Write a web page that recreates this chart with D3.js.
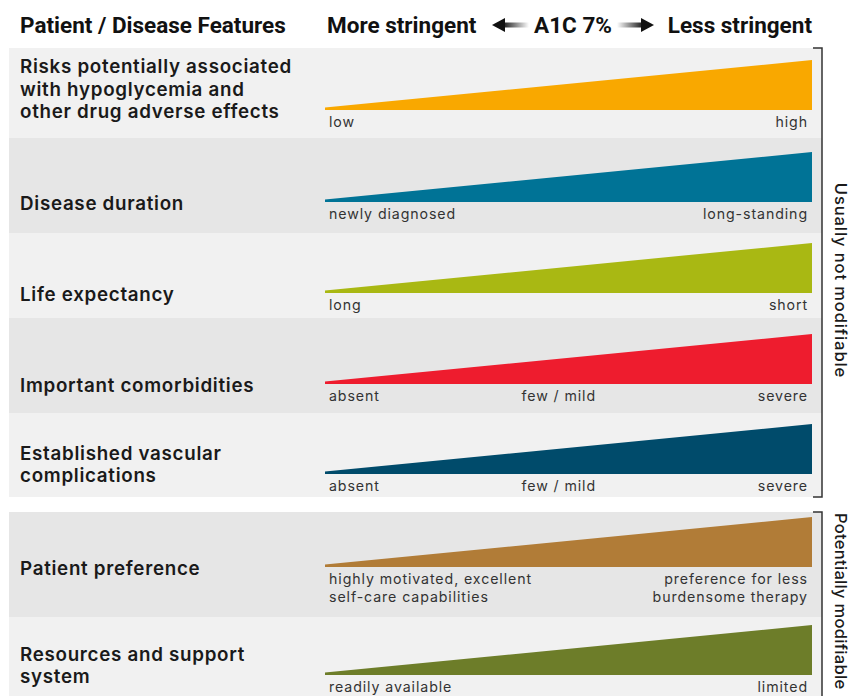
<!DOCTYPE html>
<html>
<head>
<meta charset="utf-8">
<script src="https://cdn.jsdelivr.net/npm/d3@7/dist/d3.min.js"></script>
<style>
body{margin:0;background:#fff;}
svg{display:block;}
.head{font-family:Roboto,"Liberation Sans",sans-serif;font-weight:bold;font-size:22.5px;fill:#111;}
.feat{font-family:Inter,"Open Sans",sans-serif;font-weight:600;font-size:18.8px;letter-spacing:0.7px;fill:#1a1a1a;}
.sub{font-family:Inter,"Open Sans",sans-serif;font-size:14.2px;letter-spacing:0.9px;fill:#333;}
.side{font-family:Inter,"Open Sans",sans-serif;font-weight:500;font-size:16.5px;letter-spacing:0.9px;fill:#1a1a1a;}
</style>
</head>
<body>
<svg id="chart"></svg>
<script>
// features, top to bottom
var features = [
    ["Risks potentially associated","with hypoglycemia and","other drug adverse effects"],
    ["Disease duration"],
    ["Life expectancy"],
    ["Important comorbidities"],
    ["Established vascular","complications"],
    ["Patient preference"],
    ["Resources and support","system"]
];
var leftLabels = [["low"],["newly diagnosed"],["long"],["absent"],["absent"],
    ["highly motivated, excellent","self-care capabilities"],["readily available"]];
var midLabels = ["","","","few / mild","few / mild","",""];
var rightLabels = [["high"],["long-standing"],["short"],["severe"],["severe"],
    ["preference for less","burdensome therapy"],["limited"]];
var colors = ["#f9a800","#007396","#a9b813","#ee1c2e","#004b6b","#b17c37","#6d7d29"];
// wedge thickness, stringent end -> less stringent end
var wedgeStart = [0.05,0.05,0.05,0.05,0.05,0.05,0.05];
var wedgeEnd = [1,1,1,1,1,1,1];
var groups = [
    {name:"Usually not modifiable", rows:[0,1,2,3,4]},
    {name:"Potentially modifiable", rows:[5,6]}
];

var screen = {width:850, height:696};
var rowH = [90,95,85,95,84,105,95];
var baseOff = [62,64,60,66,61,55,58];
var groupGap = 15;

var svg = d3.select("#chart")
    .attr("width",screen.width)
    .attr("height",screen.height);

var xScale = d3.scaleLinear().domain([0,1]).range([325,812]);
var tScale = d3.scaleLinear().domain([0,1]).range([0,50]);

// row tops
var tops = [];
var y = 48;
features.forEach(function(f,i){
    if(i==5){ y += groupGap; }
    tops.push(y);
    y += rowH[i];
});

var bg = svg.append("g");
bg.selectAll("rect")
    .data(features)
    .enter()
    .append("rect")
    .attr("x",9)
    .attr("y",function(d,i){return tops[i];})
    .attr("width",813)
    .attr("height",function(d,i){return rowH[i];})
    .attr("fill",function(d,i){return i%2==0 ? "#f1f1f1" : "#e6e6e6";});

var area = d3.area()
    .x(function(d){return xScale(d.t);})
    .y0(function(d){return d.base;})
    .y1(function(d){return d.base - tScale(d.v);});

var rows = svg.selectAll(".row")
    .data(features)
    .enter()
    .append("g")
    .classed("row",true);

rows.append("path")
    .attr("d",function(d,i){
        var base = tops[i]+baseOff[i];
        return area([{t:0,v:wedgeStart[i],base:base},{t:1,v:wedgeEnd[i],base:base}]);
    })
    .attr("fill",function(d,i){return colors[i];});

// feature names, last line sits on the wedge baseline
rows.each(function(d,i){
    var g = d3.select(this);
    var base = tops[i]+baseOff[i];
    d.forEach(function(line,j){
        g.append("text").classed("feat",true)
            .attr("x",20)
            .attr("y",base+8-(d.length-1-j)*22.5)
            .text(line);
    });
    leftLabels[i].forEach(function(line,j){
        g.append("text").classed("sub",true)
            .attr("x",xScale(0)+4)
            .attr("y",base+17+j*18)
            .text(line);
    });
    rightLabels[i].forEach(function(line,j){
        g.append("text").classed("sub",true)
            .attr("x",xScale(1)-4)
            .attr("y",base+17+j*18)
            .attr("text-anchor","end")
            .text(line);
    });
    if(midLabels[i]){
        g.append("text").classed("sub",true)
            .attr("x",xScale(0.48))
            .attr("y",base+17)
            .attr("text-anchor","middle")
            .text(midLabels[i]);
    }
});

// brackets and side labels
groups.forEach(function(grp){
    var first = grp.rows[0], last = grp.rows[grp.rows.length-1];
    var y0 = tops[first], y1 = tops[last]+rowH[last];
    svg.append("path")
        .attr("d","M813,"+y0+"H822V"+y1+"H813")
        .attr("fill","none")
        .attr("stroke","#333")
        .attr("stroke-width",1.5);
    var long = grp.rows.length>2;
    svg.append("text").classed("side",true)
        .attr("transform","translate(835,"+(long ? (y0+y1)/2+8 : y0+1)+") rotate(90)")
        .attr("text-anchor",long ? "middle" : "start")
        .style("letter-spacing",long ? null : "0.3px")
        .text(grp.name);
});

// header
var defs = svg.append("defs");
var gl = defs.append("linearGradient").attr("id","fadeL");
gl.append("stop").attr("offset","0%").attr("stop-color","#111");
gl.append("stop").attr("offset","100%").attr("stop-color","#fff");
var gr = defs.append("linearGradient").attr("id","fadeR");
gr.append("stop").attr("offset","0%").attr("stop-color","#fff");
gr.append("stop").attr("offset","100%").attr("stop-color","#111");

var head = svg.append("g");
head.append("text").classed("head",true).attr("x",20).attr("y",33).text("Patient / Disease Features");
head.append("text").classed("head",true).attr("x",327).attr("y",33).text("More stringent");
head.append("text").classed("head",true).attr("x",573).attr("y",33).attr("text-anchor","middle").text("A1C 7%");
head.append("text").classed("head",true).attr("x",812).attr("y",33).attr("text-anchor","end").text("Less stringent");

head.append("rect").attr("x",502).attr("y",22.5).attr("width",27).attr("height",5).attr("fill","url(#fadeL)");
head.append("path").attr("d","M492,25L505,18V32Z").attr("fill","#111");
head.append("rect").attr("x",617).attr("y",22.5).attr("width",27).attr("height",5).attr("fill","url(#fadeR)");
head.append("path").attr("d","M654,25L641,18V32Z").attr("fill","#111");
</script>
</body>
</html>
